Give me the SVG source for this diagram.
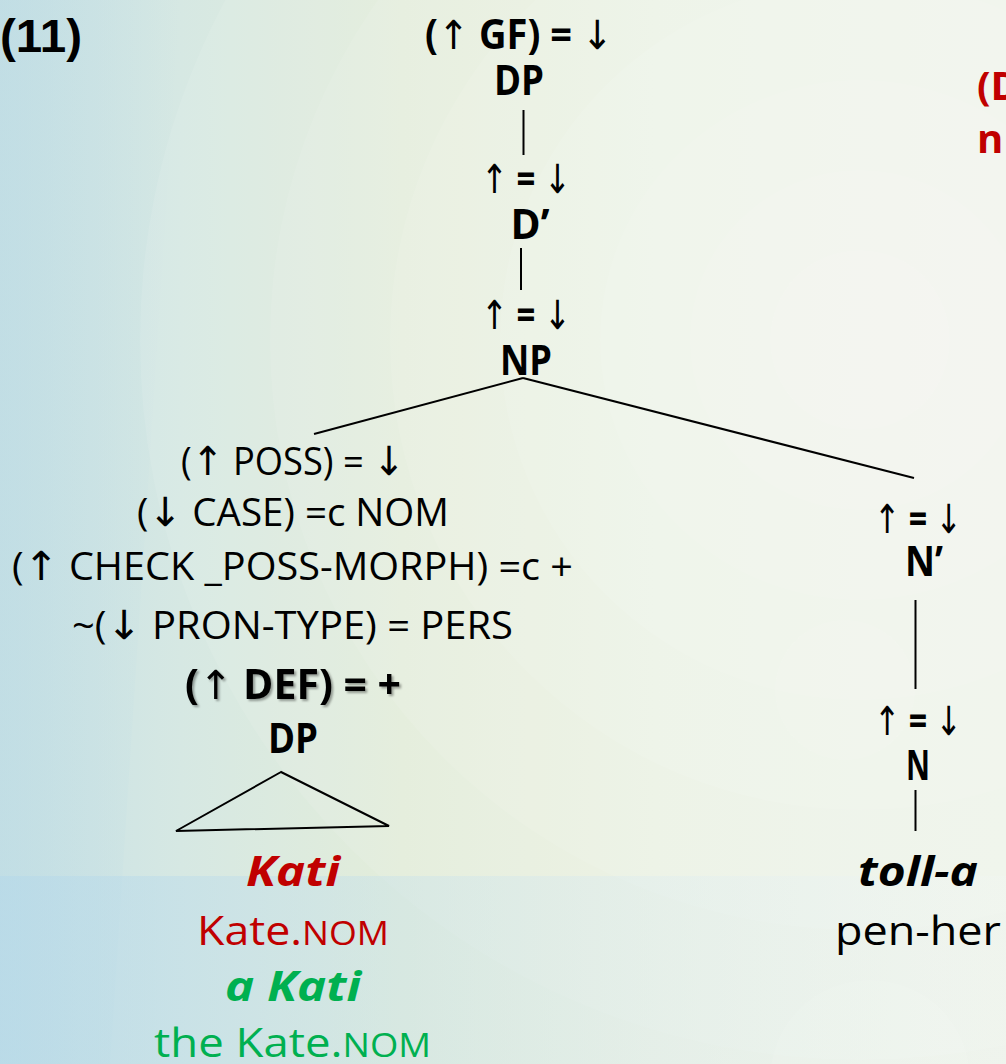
<svg xmlns="http://www.w3.org/2000/svg" width="1006" height="1064" viewBox="0 0 1006 1064">
  <defs>
    <linearGradient id="bgBase" x1="0" y1="0" x2="1" y2="0">
      <stop offset="0" stop-color="#c6e0e6"/>
      <stop offset="0.18" stop-color="#d6e8e3"/>
      <stop offset="0.4" stop-color="#e3edda"/>
      <stop offset="0.65" stop-color="#ebf1e3"/>
      <stop offset="1" stop-color="#eef3ea"/>
    </linearGradient>
    <linearGradient id="bgBand" x1="0" y1="0" x2="1" y2="0">
      <stop offset="0" stop-color="#b4d8ea" stop-opacity="0.55"/>
      <stop offset="0.35" stop-color="#c0deec" stop-opacity="0.4"/>
      <stop offset="0.75" stop-color="#e0eef4" stop-opacity="0.3"/>
      <stop offset="1" stop-color="#f2f7f8" stop-opacity="0.2"/>
    </linearGradient>
    <linearGradient id="bgLeft" x1="0" y1="0" x2="1" y2="0">
      <stop offset="0" stop-color="#bcdbe3" stop-opacity="0.45"/>
      <stop offset="1" stop-color="#bcdbe3" stop-opacity="0"/>
    </linearGradient>
    <filter id="shadow" x="-5%" y="-20%" width="115%" height="150%">
      <feDropShadow dx="2" dy="2" stdDeviation="1.2" flood-color="#000" flood-opacity="0.35"/>
    </filter>
    <style>
      text { font-family: "Open Sans", "DejaVu Sans", sans-serif; }
      .lbl { font-size: 38px; fill: #000; text-anchor: middle; }
      .cat { font-size: 41px; font-weight: bold; fill: #000; text-anchor: middle; }
      .word { font-size: 41px; font-weight: bold; font-style: italic; text-anchor: middle; }
      .gloss { font-size: 40px; text-anchor: middle; }
      .sc { font-size: 32px; }
      .ar { font-family: "DejaVu Sans", sans-serif; font-weight: normal; font-size: 40px; }
      .red { fill: #c00000; }
      .green { fill: #00b050; }
      .edge { stroke: #000; stroke-width: 2; fill: none; }
      .ring { fill: #ffffff; fill-opacity: 0.09; }
    </style>
  </defs>

  <!-- background -->
  <g id="background">
    <rect x="0" y="0" width="1006" height="1064" fill="url(#bgBase)"/>
    <path d="M0 0 H180 L110 1064 H0 Z" fill="url(#bgLeft)"/>
    <circle class="ring" cx="860" cy="340" r="720"/>
    <circle class="ring" cx="860" cy="340" r="590"/>
    <circle class="ring" cx="860" cy="340" r="470"/>
    <circle class="ring" cx="860" cy="340" r="360"/>
    <circle class="ring" cx="860" cy="340" r="260"/>
    <circle class="ring" cx="860" cy="340" r="170"/>
    <circle class="ring" cx="860" cy="340" r="90"/>
    <circle class="ring" cx="845" cy="690" r="70"/>
    <rect x="0" y="876" width="1006" height="188" fill="url(#bgBand)"/>
    <circle class="ring" cx="870" cy="1080" r="100"/>
  </g>

  <text x="0" y="52" style="font-family: 'Liberation Sans', Arial, sans-serif" font-size="46" font-weight="bold" textLength="82" lengthAdjust="spacingAndGlyphs">(11)</text>

  <!-- connectors -->
  <g id="connectors">
    <line class="edge" x1="523.5" y1="110" x2="523.5" y2="155"/>
    <line class="edge" x1="521" y1="248" x2="521" y2="290"/>
    <line class="edge" x1="523" y1="378" x2="314" y2="434"/>
    <line class="edge" x1="523" y1="378" x2="914" y2="478"/>
    <line class="edge" x1="915.5" y1="600" x2="915.5" y2="689"/>
    <line class="edge" x1="915.5" y1="790" x2="915.5" y2="831"/>
    <path class="edge" d="M281 772 L176 831 L389 826 Z" stroke-linejoin="miter"/>
  </g>

  <g id="node-dp-top">
    <text class="cat" x="519" y="49" textLength="188" lengthAdjust="spacingAndGlyphs">(<tspan class="ar">↑</tspan> GF) = <tspan class="ar">↓</tspan></text>
    <text class="cat" x="519" y="95" textLength="50" lengthAdjust="spacingAndGlyphs">DP</text>
  </g>

  <g id="node-d-bar">
    <text class="cat" x="526" y="193" textLength="90" lengthAdjust="spacingAndGlyphs"><tspan class="ar">↑</tspan> = <tspan class="ar">↓</tspan></text>
    <text class="cat" x="530" y="239" textLength="39" lengthAdjust="spacingAndGlyphs">D’</text>
  </g>

  <g id="node-np">
    <text class="cat" x="526" y="329" textLength="90" lengthAdjust="spacingAndGlyphs"><tspan class="ar">↑</tspan> = <tspan class="ar">↓</tspan></text>
    <text class="cat" x="526" y="375" textLength="52" lengthAdjust="spacingAndGlyphs">NP</text>
  </g>

  <g id="node-dp-poss">
    <text class="lbl" x="293" y="475" textLength="224" lengthAdjust="spacingAndGlyphs">(<tspan class="ar">↑</tspan> POSS) = <tspan class="ar">↓</tspan></text>
    <text class="lbl" x="293" y="526" textLength="312" lengthAdjust="spacingAndGlyphs">(<tspan class="ar">↓</tspan> CASE) =c NOM</text>
    <text class="lbl" x="292.5" y="580" textLength="561" lengthAdjust="spacingAndGlyphs">(<tspan class="ar">↑</tspan> CHECK _POSS-MORPH) =c +</text>
    <text class="lbl" x="292.5" y="639" textLength="441" lengthAdjust="spacingAndGlyphs">~(<tspan class="ar">↓</tspan> PRON-TYPE) = PERS</text>
    <text class="cat" x="293" y="699" textLength="216" lengthAdjust="spacingAndGlyphs" filter="url(#shadow)">(<tspan class="ar">↑</tspan> DEF) = +</text>
    <text class="cat" x="293" y="753" textLength="50" lengthAdjust="spacingAndGlyphs">DP</text>
  </g>

  <g id="leaf-kati">
    <text class="word red" x="293" y="886" textLength="94" lengthAdjust="spacingAndGlyphs">Kati</text>
    <text class="gloss red" x="293" y="945" textLength="192" lengthAdjust="spacingAndGlyphs">Kate.<tspan class="sc">NOM</tspan></text>
    <text class="word green" x="293" y="1001" textLength="136" lengthAdjust="spacingAndGlyphs">a Kati</text>
    <text class="gloss green" x="292.5" y="1057" textLength="277" lengthAdjust="spacingAndGlyphs">the Kate.<tspan class="sc">NOM</tspan></text>
  </g>

  <g id="node-n-bar">
    <text class="cat" x="918" y="533" textLength="88" lengthAdjust="spacingAndGlyphs"><tspan class="ar">↑</tspan> = <tspan class="ar">↓</tspan></text>
    <text class="cat" x="924" y="576" textLength="38" lengthAdjust="spacingAndGlyphs">N’</text>
  </g>

  <g id="node-n">
    <text class="cat" x="918" y="735" textLength="88" lengthAdjust="spacingAndGlyphs"><tspan class="ar">↑</tspan> = <tspan class="ar">↓</tspan></text>
    <text class="cat" x="918" y="780" textLength="24" lengthAdjust="spacingAndGlyphs">N</text>
  </g>

  <g id="leaf-tolla">
    <text class="word" x="918" y="886" textLength="120" lengthAdjust="spacingAndGlyphs">toll-a</text>
    <text class="gloss" x="918" y="945" textLength="166" lengthAdjust="spacingAndGlyphs">pen-her</text>
  </g>

  <g id="note">
    <text x="977" y="100" font-size="40" font-weight="bold" fill="#c00000">(D</text>
    <text x="977" y="153" font-size="40" font-weight="bold" fill="#c00000">n</text>
  </g>
</svg>
